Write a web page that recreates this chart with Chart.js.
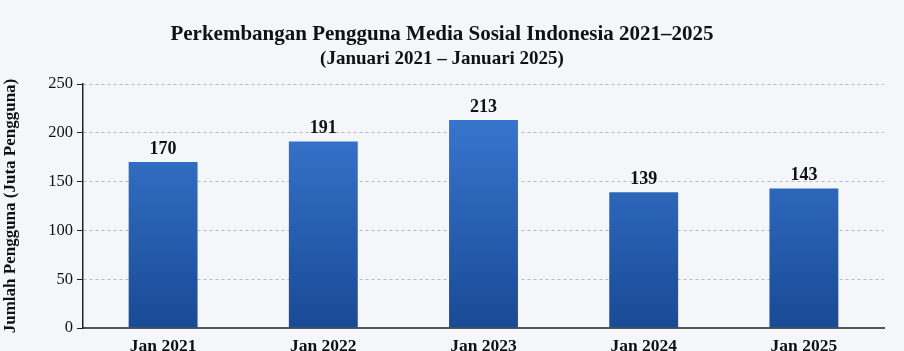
<!DOCTYPE html>
<html>
<head>
<meta charset="utf-8">
<script src="https://cdn.jsdelivr.net/npm/chart.js@4"></script>
<style>
  html, body { margin: 0; padding: 0; background: #f4f6f9; }
  #wrap { width: 904px; height: 351px; }
</style>
</head>
<body>
<div id="wrap"><canvas id="grafico" width="904" height="351"></canvas></div>
<script>
const periode = ["Jan 2021", "Jan 2022", "Jan 2023", "Jan 2024", "Jan 2025"];
const pengguna = [170, 191, 213, 139, 143];
const tickY = [0, 50, 100, 150, 200, 250];

const serif = "'Liberation Serif', 'Times New Roman', serif";

// fondo del lienzo
const fondo = {
  id: "fondo",
  beforeDraw(chart) {
    const c = chart.ctx;
    c.save();
    c.fillStyle = "#f4f6f9";
    c.fillRect(0, 0, chart.width, chart.height);
    c.restore();
  }
};

// etiquetas encima de cada barra
const etiquetas = {
  id: "etiquetas",
  afterDatasetsDraw(chart) {
    const c = chart.ctx;
    const meta = chart.getDatasetMeta(0);
    c.save();
    c.font = "bold 18px " + serif;
    c.fillStyle = "#111";
    c.textAlign = "center";
    c.textBaseline = "bottom";
    meta.data.forEach((bar, i) => {
      c.fillText(pengguna[i], bar.x, bar.y - 4);
    });
    c.restore();
  }
};

function degradado(context) {
  const area = context.chart.chartArea;
  if (!area) return "#2a64b8";
  const g = context.chart.ctx.createLinearGradient(0, area.top, 0, area.bottom);
  g.addColorStop(0, "#3c7dd7");
  g.addColorStop(1, "#194a95");
  return g;
}

const ctx = document.getElementById("grafico").getContext("2d");
new Chart(ctx, {
  type: "bar",
  data: {
    labels: periode,
    datasets: [{
      data: pengguna,
      backgroundColor: degradado,
      borderWidth: 0,
      barPercentage: 0.43,
      categoryPercentage: 1
    }]
  },
  plugins: [fondo, etiquetas],
  options: {
    responsive: false,
    animation: false,
    layout: { padding: { left: 0, right: 20, top: 0, bottom: 0 } },
    scales: {
      x: {
        grid: { display: false },
        border: { display: true, color: "#555", width: 2 },
        ticks: { color: "#111", font: { family: serif, size: 17.5, weight: "bold" }, padding: 0 },
        afterFit(scale) { scale.height = 23; }
      },
      y: {
        min: 0,
        max: 250,
        afterBuildTicks(scale) { scale.ticks = tickY.map(v => ({ value: v })); },
        grid: {
          color: "#b8bcc2",
          lineWidth: 1,
          tickLength: 6,
          tickColor: "#222",
          tickBorderDash: []
        },
        border: { display: true, color: "#222", width: 1.5, dash: [3, 3] },
        ticks: { color: "#111", font: { family: serif, size: 16.5 }, padding: 4 },
        title: {
          display: true,
          text: "Jumlah Pengguna (Juta Pengguna)",
          color: "#111",
          font: { family: serif, size: 17, weight: "bold" },
          padding: { top: 0, bottom: 5 }
        },
        afterFit(scale) { scale.width = 83; }
      }
    },
    plugins: {
      legend: { display: false },
      tooltip: { enabled: false },
      title: {
        display: true,
        text: "Perkembangan Pengguna Media Sosial Indonesia 2021\u20132025",
        color: "#111",
        font: { family: serif, size: 21, weight: "bold" },
        padding: { top: 22, bottom: 0 }
      },
      subtitle: {
        display: true,
        text: "(Januari 2021 \u2013 Januari 2025)",
        color: "#111",
        font: { family: serif, size: 19, weight: "bold" },
        padding: { top: 0, bottom: 14 }
      }
    }
  }
});
</script>
</body>
</html>
